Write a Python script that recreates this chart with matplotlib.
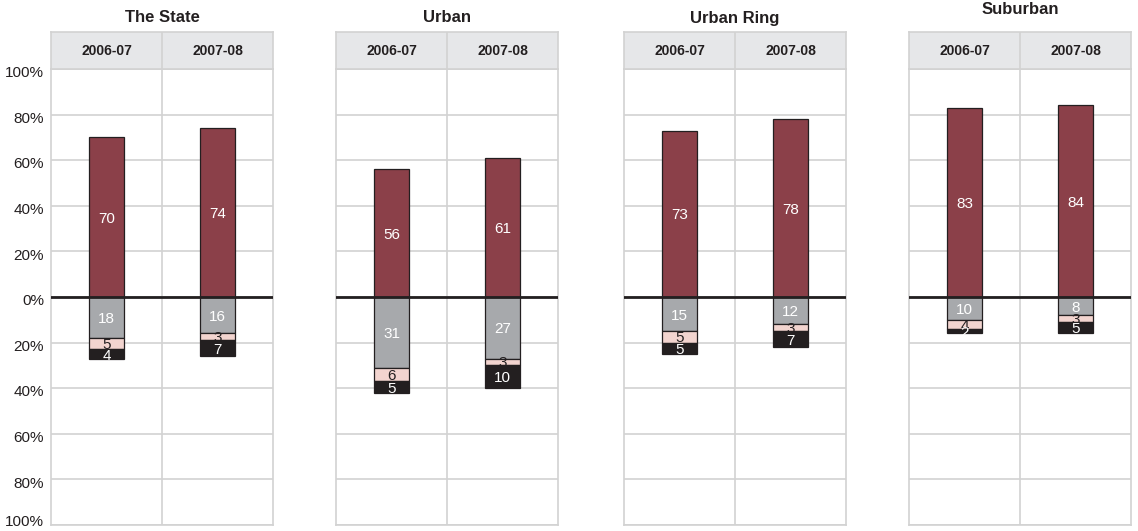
import matplotlib.pyplot as plt
import matplotlib.patches as patches
from matplotlib.transforms import ScaledTranslation

plt.rcParams['font.family'] = ['Liberation Sans', 'DejaVu Sans']

groups = ['The State', 'Urban', 'Urban Ring', 'Suburban']
years = ['2006-07', '2007-08']

positive = [[70, 74], [56, 61], [73, 78], [83, 84]]
grey_part = [[18, 16], [31, 27], [15, 12], [10, 8]]
pink_part = [[5, 3], [6, 3], [5, 3], [4, 3]]
black_part = [[4, 7], [5, 10], [5, 7], [2, 5]]

ticks = [100, 80, 60, 40, 20, 0, -20, -40, -60, -80, -100]
tick_labels = [str(abs(t)) + '%' for t in ticks]

c_red = '#8b4049'
c_grey = '#a7a9ac'
c_pink = '#f2d4cf'
c_black = '#231f20'
c_grid = '#d2d2d2'
c_head = '#e6e7e9'
c_text = '#231f20'

W, H = 1138, 531
fig = plt.figure(figsize=(W / 100, H / 100), dpi=100)

lefts = [51, 336, 624, 909]
panel_w = 222
top_px = 69
bot_px = 525
head_px = 37
title_y = [18, 18, 18, 10]

bar_w = 0.31


def seg_label(ax, x, y0, h, value, color):
    rect = patches.Rectangle((x - bar_w / 2, y0), bar_w, h,
                             transform=ax.transData)
    t = ax.text(x, y0 + h / 2, str(value), ha='center', va='center_baseline',
                color=color, fontsize=11)
    t.set_clip_path(rect)


for i, g in enumerate(groups):
    l = lefts[i] / W
    w = panel_w / W
    b = (H - bot_px) / H
    h = (bot_px - top_px) / H
    ax = fig.add_axes([l, b, w, h])

    # header strip
    hax = fig.add_axes([l, (H - top_px) / H, w, head_px / H])
    hax.set_facecolor(c_head)
    hax.set_xlim(-0.5, 1.5)
    hax.set_ylim(0, 1)
    hax.set_xticks([])
    hax.set_yticks([])
    for s in hax.spines.values():
        s.set_color(c_grid)
        s.set_linewidth(1.2)
    hax.axvline(0.5, color=c_grid, lw=1.2)
    for j, yr in enumerate(years):
        hax.text(j, 0.48, yr, ha='center', va='center', fontsize=10,
                 fontweight='bold', color=c_text)

    fig.text(l + w / 2, 1 - title_y[i] / H, g, ha='center', va='center',
             fontsize=12, fontweight='bold', color=c_text)

    ax.set_xlim(-0.5, 1.5)
    ax.set_ylim(-100, 100)
    for t in ticks:
        ax.axhline(t, color=c_grid, lw=1.2, zorder=0)
    ax.axvline(0.5, color=c_grid, lw=1.2, zorder=0)
    for s in ax.spines.values():
        s.set_color(c_grid)
        s.set_linewidth(1.2)

    for j in range(2):
        p = positive[i][j]
        gr = grey_part[i][j]
        pk = pink_part[i][j]
        bk = black_part[i][j]
        kw = dict(width=bar_w, edgecolor=c_black, linewidth=0.9, zorder=2)
        ax.bar(j, p, color=c_red, **kw)
        ax.bar(j, -gr, color=c_grey, **kw)
        ax.bar(j, -pk, bottom=-gr, color=c_pink, **kw)
        ax.bar(j, -bk, bottom=-gr - pk, color=c_black, **kw)
        seg_label(ax, j, 0, p, p, 'white')
        seg_label(ax, j, -gr, gr, gr, 'white')
        seg_label(ax, j, -gr - pk, pk, pk, c_text)
        seg_label(ax, j, -gr - pk - bk, bk, bk, 'white')

    ax.axhline(0, color=c_black, lw=2, zorder=3)

    ax.set_xticks([])
    ax.set_yticks(ticks)
    ax.tick_params(axis='y', length=0, pad=5, labelsize=11, labelcolor=c_text)
    if i == 0:
        ax.set_yticklabels(tick_labels)
        labs = ax.get_yticklabels()
        down = ScaledTranslation(0, -2 / 72, fig.dpi_scale_trans)
        up = ScaledTranslation(0, 3 / 72, fig.dpi_scale_trans)
        for k, lab in enumerate(labs):
            lab.set_transform(lab.get_transform() + (up if k == len(labs) - 1 else down))
    else:
        ax.set_yticklabels([])

fig.savefig('out.png', dpi=100)
